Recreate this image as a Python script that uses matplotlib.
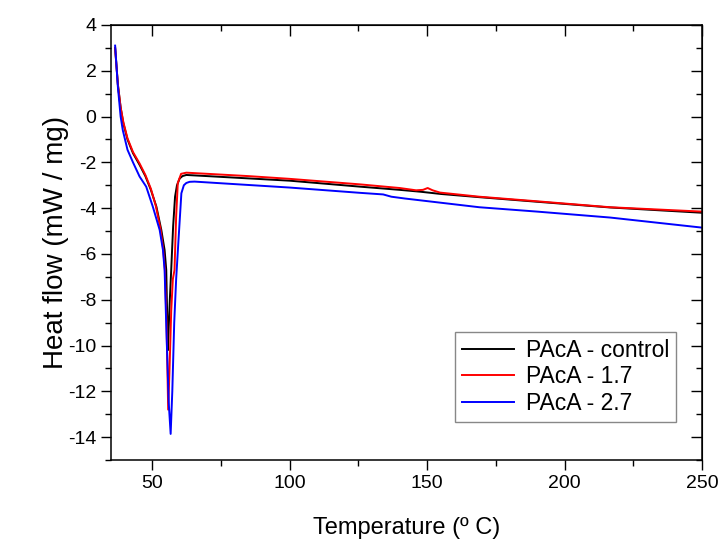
import numpy as np
import matplotlib
matplotlib.use("Agg")
import matplotlib.pyplot as plt
from matplotlib.ticker import MultipleLocator

plt.rcParams['font.family'] = ['Liberation Sans', 'DejaVu Sans']
plt.rcParams['axes.unicode_minus'] = False

# DSC curves, temperature (C) vs heat flow (mW/mg)
t_control = [36.5, 37.5, 38.5, 39.5, 41, 43, 45.4, 47.5, 49.5, 51.5, 53.3, 54.5, 55.1, 55.4, 55.7,
             56.0, 56.4, 56.9, 57.6, 58.3, 59.0, 60.0, 61.0, 62.4, 70, 85, 100, 125.5, 140, 147.4,
             155, 169, 190, 216.6, 250]
hf_control = [3.0, 1.4, 0.4, -0.3, -1.0, -1.6, -2.11, -2.6, -3.2, -3.93, -4.95, -5.83, -6.7, -8.5, -10.2,
              -9.2, -8.0, -6.7, -4.8, -3.5, -3.0, -2.7, -2.6, -2.55, -2.6, -2.7, -2.8, -3.06, -3.2, -3.28,
              -3.38, -3.52, -3.72, -3.97, -4.2]

t_17 = [36.5, 37.5, 38.5, 39.5, 41, 43, 45.4, 47.5, 49.5, 51.3, 53.0, 54.0, 54.6, 55.2, 55.8,
        56.3, 56.9, 57.5, 58.1, 58.7, 59.3, 60.5, 62.4, 70, 85, 100, 125.5, 140, 146, 148.5,
        150.2, 152, 154.7, 169, 190, 216.6, 250]
hf_17 = [3.0, 1.4, 0.4, -0.25, -0.95, -1.55, -2.05, -2.55, -3.15, -3.9, -4.9, -5.8, -6.7, -9.0, -12.8,
         -11.0, -8.5, -7.1, -6.7, -4.37, -2.9, -2.5, -2.45, -2.5, -2.6, -2.72, -2.96, -3.12, -3.22, -3.2,
         -3.12, -3.22, -3.32, -3.5, -3.7, -3.96, -4.15]

t_27 = [36.5, 37.5, 38.5, 39.3, 41, 43, 45.4, 47.8, 50.2, 52.7, 53.9, 54.5, 55.2, 56.0, 56.7,
        57.3, 58.0, 58.7, 59.5, 60.6, 61.5, 62.4, 63.6, 65.4, 80, 100, 125.5, 134, 137,
        142, 169, 190, 216.6, 250]
hf_27 = [3.1, 1.3, 0.0, -0.6, -1.45, -2.0, -2.62, -3.06, -3.93, -4.95, -5.83, -6.7, -9.5, -12.5, -13.86,
         -12.0, -9.0, -7.1, -5.5, -3.35, -3.0, -2.9, -2.85, -2.84, -2.95, -3.1, -3.33, -3.4, -3.5,
         -3.58, -3.96, -4.15, -4.41, -4.85]

labels = ['PAcA - control', 'PAcA - 1.7', 'PAcA - 2.7']

fig = plt.figure(figsize=(7.18, 5.41), dpi=100)
ax = fig.add_axes([0.1546, 0.1497, 0.8231, 0.8041])

ax.plot(t_control, hf_control, color='black', lw=1.4, label=labels[0])
ax.plot(t_17, hf_17, color='#ff0000', lw=1.4, label=labels[1])
ax.plot(t_27, hf_27, color='#0000ff', lw=1.4, label=labels[2])

ax.set_xlim(35, 250)
ax.set_ylim(-15, 4)
ax.xaxis.set_major_locator(MultipleLocator(50))
ax.xaxis.set_minor_locator(MultipleLocator(25))
ax.yaxis.set_major_locator(MultipleLocator(2))
ax.yaxis.set_minor_locator(MultipleLocator(1))

for s in ax.spines.values():
    s.set_linewidth(1.1)

ax.tick_params(which='both', direction='out', top=False, right=False, labelsize=14, width=1.0)
ax.tick_params(which='major', length=7)
ax.tick_params(which='minor', length=4)

# inward ticks on the top and right edges
axt = ax.secondary_xaxis('top')
axt.xaxis.set_major_locator(MultipleLocator(50))
axt.xaxis.set_minor_locator(MultipleLocator(25))
axt.tick_params(which='both', direction='in', labeltop=False, width=1.0)
axt.tick_params(which='major', length=8)
axt.tick_params(which='minor', length=4)
axr = ax.secondary_yaxis('right')
axr.yaxis.set_major_locator(MultipleLocator(2))
axr.yaxis.set_minor_locator(MultipleLocator(1))
axr.tick_params(which='both', direction='in', labelright=False, width=1.0)
axr.tick_params(which='major', length=8)
axr.tick_params(which='minor', length=4)

ax.set_xlabel('Temperature (º C)', fontsize=17, labelpad=18)
ax.set_ylabel('Heat flow (mW / mg)', fontsize=20, labelpad=-1)

leg = ax.legend(loc='upper right', bbox_to_anchor=(0.956, 0.294), borderaxespad=0,
                fontsize=16.5, fancybox=False, framealpha=1, edgecolor='#888888',
                handlelength=2.3, labelspacing=0.15, borderpad=0.3, handletextpad=0.5)
leg.get_frame().set_linewidth(1.0)

fig.savefig('out.png', dpi=100)
